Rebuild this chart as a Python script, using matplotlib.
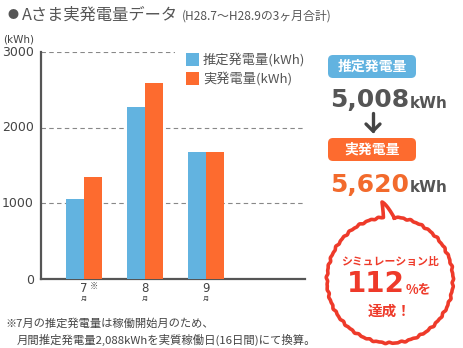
import numpy as np
import matplotlib
matplotlib.use("Agg")
import matplotlib.pyplot as plt
from matplotlib.patches import FancyBboxPatch, Rectangle

plt.rcParams['font.family'] = ['Noto Sans CJK JP', 'DejaVu Sans']

# --- data -------------------------------------------------------------
months = ["7", "8", "9"]
month_suffix = "月"
estimated = [1060, 2268, 1680]     # 推定発電量 (kWh)
actual = [1350, 2590, 1680]        # 実発電量 (kWh)
series_names = ["推定発電量(kWh)", "実発電量(kWh)"]
yticks = [0, 1000, 2000, 3000]
total_estimated = sum(estimated)
total_actual = sum(actual)
ratio = round(total_actual / total_estimated * 100)

BLUE = "#62b3e0"
ORANGE = "#fd6b2f"
GRAY = "#555555"
RED = "#ee3a2a"

W, H = 464, 348
fig = plt.figure(figsize=(W / 100, H / 100), dpi=100)
fig.patch.set_facecolor("white")


def fx(px):
    return px / W


def fy(py):
    return 1 - py / H


# --- bar chart --------------------------------------------------------
ax_l, ax_r, ax_t, ax_b = 41, 305, 52, 279
ax = fig.add_axes([fx(ax_l), fy(ax_b), fx(ax_r - ax_l), (ax_b - ax_t) / H])
x = np.arange(len(months))
bw = 0.30
ax.bar(x - bw / 2, estimated, width=bw, color=BLUE, zorder=3)
ax.bar(x + bw / 2, actual, width=bw, color=ORANGE, zorder=3)
ax.set_xlim(-0.705, 3.62)
ax.set_ylim(0, 3000)
for v in yticks[1:]:
    ax.axhline(v, color="#888888", lw=0.8, ls=(0, (4, 3)), zorder=1)
for s in ["top", "right"]:
    ax.spines[s].set_visible(False)
for s in ["left", "bottom"]:
    ax.spines[s].set_color(GRAY)
    ax.spines[s].set_linewidth(1.6)
ax.set_xticks([])
ax.set_yticks([])

# --- overlay in pixel coordinates ------------------------------------
ov = fig.add_axes([0, 0, 1, 1])
ov.set_xlim(0, W)
ov.set_ylim(H, 0)
ov.axis("off")
ov.patch.set_alpha(0)

# y tick labels
for v in yticks:
    py = ax.transData.transform((0, v))[1]
    ov.text(34, H - py + (2 if v == 0 else 0), str(v), ha="right", va="center",
            fontsize=9, color="#444444", family="DejaVu Sans")
ov.text(3, 40, "(kWh)", ha="left", va="center", fontsize=7.5, color="#444444",
        family="DejaVu Sans")

# x tick labels
for i, m in enumerate(months):
    px = ax.transData.transform((i, 0))[0]
    ov.text(px, 289, m, ha="center", va="center", fontsize=8.5, color="#444444",
            family="DejaVu Sans")
    ov.text(px, 299, month_suffix, ha="center", va="center", fontsize=4.5,
            color="#444444")
    if i == 0:
        ov.text(px + 6, 286, "※", ha="left", va="center", fontsize=6,
                color="#444444")

# legend
ov.add_patch(Rectangle((175, 46), 133, 42, facecolor="white", edgecolor="none"))
for j, (name, col) in enumerate(zip(series_names, [BLUE, ORANGE])):
    yy = 53 + j * 19
    ov.add_patch(Rectangle((186, yy), 13, 13, facecolor=col, edgecolor="none"))
    ov.text(203, yy + 6.5, name, ha="left", va="center", fontsize=9.5, color=GRAY)

# title
ov.text(8, 15, "●", ha="left", va="center", fontsize=8, color=GRAY)
ov.text(22, 15, "Aさま実発電量データ", ha="left", va="center", fontsize=11.7,
        color=GRAY)
ov.text(182, 16, "(H28.7～H28.9の3ヶ月合計)", ha="left", va="center",
        fontsize=8.6, color=GRAY)

renderer = fig.canvas.get_renderer()


def label_box(x0, y0, w, h, col, txt):
    ov.add_patch(FancyBboxPatch((x0, y0), w, h,
                                boxstyle="round,pad=0,rounding_size=5",
                                facecolor=col, edgecolor="none"))
    ov.text(x0 + w / 2, y0 + h / 2 + 0.5, txt, ha="center", va="center",
            fontsize=10, color="white", weight="bold")


def total_line(y, value, col):
    t = ov.text(330, y, f"{value:,}", ha="left", va="center",
                fontsize=18, weight="bold", color=col, family="DejaVu Sans")
    bb = t.get_window_extent(renderer)
    x_end = bb.x1 / fig.dpi * 100
    ov.text(x_end + 1, y + 3, "kWh", ha="left", va="center", fontsize=11,
            weight="bold", color=GRAY, family="DejaVu Sans")


# totals panel
label_box(328, 55, 88, 23, BLUE, "推定発電量")
total_line(100, total_estimated, GRAY)
# down arrow
ov.plot([373, 373], [113, 131], color="#444444", lw=2.4, solid_capstyle="round")
ov.plot([366, 373, 380], [124, 131, 124], color="#444444", lw=2.4,
        solid_capstyle="round", solid_joinstyle="round")
label_box(328, 138, 88, 23, ORANGE, "実発電量")
total_line(185, total_actual, "#f26a2c")

# speech bubble
cx, cy, r = 390, 280, 63
a_left = np.deg2rad(96)    # pointer base angles (measured from +x, y up)
a_right = np.deg2rad(86)
t = np.linspace(a_right, a_left - 2 * np.pi, 600)
wob = 0.45 * np.sin(37 * t) + 0.35 * np.sin(61 * t + 1.0)
bx = cx + (r + wob) * np.cos(t)
by = cy - (r + wob) * np.sin(t)
tip = (382, 202)
s = np.linspace(0, 1, 16)
px_left = bx[-1] + (tip[0] - bx[-1]) * s
py_left = by[-1] + (tip[1] - by[-1]) * s ** 0.7
px_right = tip[0] + (bx[0] - tip[0]) * s
py_right = tip[1] + (by[0] - tip[1]) * s ** 1.4
path_x = np.concatenate([bx, px_left, px_right])
path_y = np.concatenate([by, py_left, py_right])
ov.fill(path_x, path_y, facecolor="white", edgecolor="none", zorder=4)
ov.plot(path_x, path_y, color=RED, lw=2.6, solid_joinstyle="round", zorder=5)

ov.text(390, 262, "シミュレーション比", ha="center", va="center", fontsize=7.8,
        weight="bold", color=RED, zorder=6)
ov.text(405, 284, f"{ratio}", ha="right", va="center", fontsize=20,
        weight="bold", color=RED, family="DejaVu Sans", zorder=6)
ov.text(406, 289, "%を", ha="left", va="center", fontsize=9.5,
        weight="bold", color=RED, zorder=6)
ov.text(390, 311, "達成！", ha="center", va="center", fontsize=10.5,
        weight="bold", color=RED, zorder=6)

# footnote
ov.text(5, 323, "※7月の推定発電量は稼働開始月のため、", ha="left", va="center",
        fontsize=8.1, color="#444444")
ov.text(17, 340, "月間推定発電量2,088kWhを実質稼働日(16日間)にて換算。",
        ha="left", va="center", fontsize=8.2, color="#444444")

fig.savefig("out.png", dpi=100)
